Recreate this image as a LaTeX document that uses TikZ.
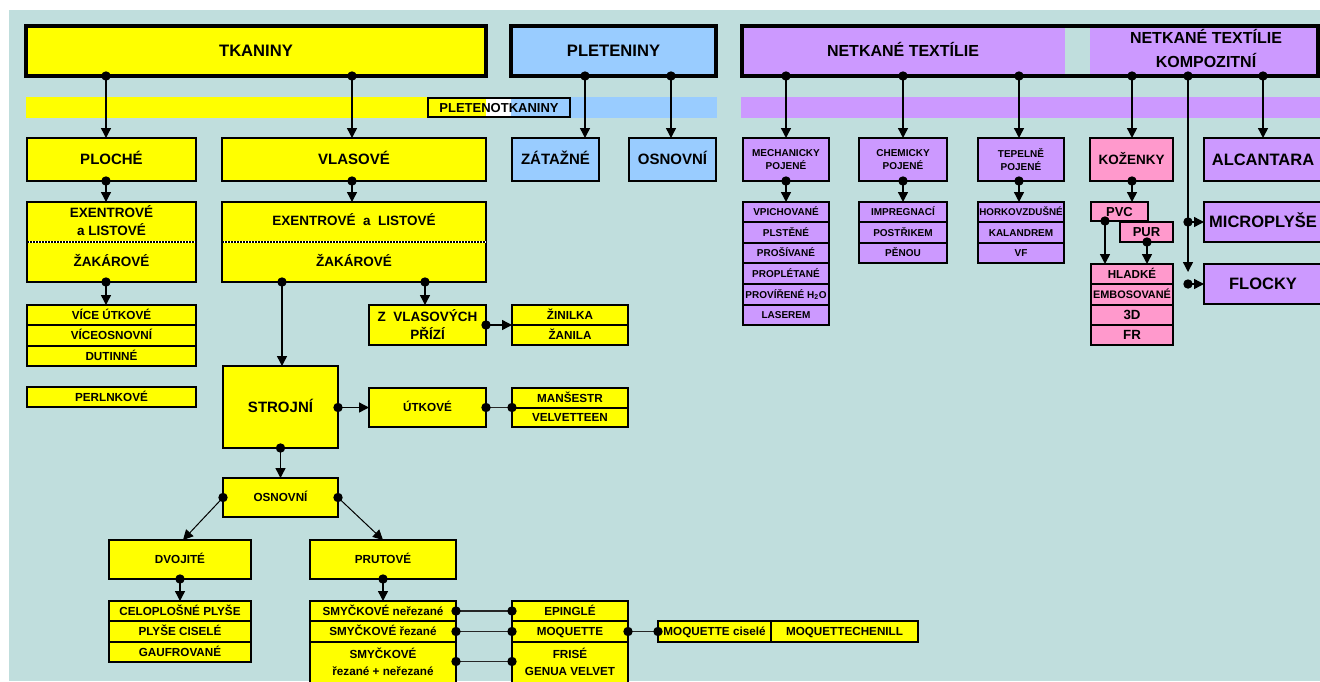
\documentclass[tikz,border=0pt]{standalone}
\usepackage{fontspec}
\setmainfont{Liberation Sans}
\usetikzlibrary{arrows.meta}
\definecolor{bg}{RGB}{192,222,221}
\definecolor{yel}{RGB}{255,255,0}
\definecolor{blu}{RGB}{153,204,255}
\definecolor{pur}{RGB}{204,153,255}
\definecolor{pnk}{RGB}{255,153,204}
\newcommand{\fs}[2]{\fontsize{#1}{#2}\selectfont\bfseries}
\newcommand{\dar}[3][ar]{\draw[#1] #2 -- #3; \fill #2 circle[radius=4.7];}
\newcommand{\dln}[2]{\draw[ln] #1 -- #2; \fill #1 circle[radius=4.7]; \fill #2 circle[radius=4.7];}
\newcommand{\bx}[7]{\node[#1, minimum width={(#5-#3)*1pt}, minimum height={(#6-#4)*1pt}] (#2) at ({(#3+#5)/2},{(#4+#6)/2}) {#7};}
\begin{document}
\begin{tikzpicture}[x=1pt,y=-1pt,
  fz/.style={font=\fs{#1}{#1}, text height=#1*0.72pt, text depth=0pt},
  ml/.style 2 args={font=\fs{#1}{#2}, text height={}, text depth={}},
  base/.style={draw, line width=2pt, inner sep=0pt, outer sep=0pt, align=center, text=black, fz=11.7},
  Y/.style={base, fill=yel},
  B/.style={base, fill=blu},
  P/.style={base, fill=pur},
  K/.style={base, fill=pnk},
  lbl/.style={inner sep=0pt, outer sep=0pt, align=center, text=black, fz=11.7},
  ar/.style={line width=1.4pt, -{Triangle[width=10pt,length=10pt]}},
  arthin/.style={line width=1pt, -{Triangle[width=10pt,length=10pt]}},
  ln/.style={line width=1.3pt, black!85},
]
\useasboundingbox (0,0) rectangle (1320,681);
\fill[bg] (9,10) rectangle (1320,681);

% bands
\fill[yel] (26,97) rectangle (428,118);
\fill[blu] (570,97) rectangle (717,118);
\fill[pur] (741,97) rectangle (1320,118);
\fill[yel] (428,98) rectangle (486,117);
\fill[white] (486,98) rectangle (511,117);
\fill[blu] (511,98) rectangle (570,117);
\bx{base, fz=13}{pk}{428}{98}{570}{117}{PLETENOTKANINY}

% top boxes
\bx{Y, line width=4pt, fz=16.6}{tk}{26}{26}{486}{76}{TKANINY}
\bx{B, line width=4pt, fz=16.6}{pt}{511}{26}{716}{76}{PLETENINY}
\bx{fill=pur, inner sep=0pt, outer sep=0pt}{nt}{742}{26}{1318}{76}{}
\fill[bg] (1065,28) rectangle (1090,74);
\draw[line width=4pt] (nt.north west) rectangle (nt.south east);
\node[lbl, fz=16] (ntA) at (903,51) {NETKANÉ TEXTÍLIE};
\node[lbl, ml={16}{24}] (ntB) at (1206,48) {NETKANÉ TEXTÍLIE\\KOMPOZITNÍ};

% row 2
\bx{Y, fz=15}{pl}{27}{138}{196}{181}{PLOCHÉ}
\bx{Y, fz=15}{vl}{222}{138}{486}{181}{VLASOVÉ}
\bx{B, fz=15}{za}{512}{138}{599}{181}{ZÁTAŽNÉ}
\bx{B, fz=15}{os}{629}{138}{716}{181}{OSNOVNÍ}
\bx{P, ml={10}{13.3}}{me}{743}{138}{829}{181}{MECHANICKY\\POJENÉ}
\bx{P, ml={10}{13.3}}{ch}{859}{138}{947}{181}{CHEMICKY\\POJENÉ}
\bx{P, ml={10}{13.3}}{te}{978}{138}{1064}{181}{TEPELNĚ\\POJENÉ}
\bx{K, fz=13.5}{ko}{1090}{138}{1173}{181}{KOŽENKY}
\bx{P, fz=16.5}{al}{1204}{138}{1322}{181}{ALCANTARA}

% row 3 yellow double boxes
\bx{Y}{exL}{27}{202}{196}{282}{}
\draw[white, line width=2pt] (exL.west) -- (exL.east);
\draw[line width=2pt, dash pattern=on 2pt off 1pt] (exL.west) -- (exL.east);
\node[lbl, ml={13.5}{18}] (exL1) at (111.5,221) {EXENTROVÉ\\a LISTOVÉ};
\node[lbl, fz=13.5] (exL2) at (111.5,262) {ŽAKÁROVÉ};
\bx{Y}{exR}{222}{202}{486}{282}{}
\draw[white, line width=2pt] (exR.west) -- (exR.east);
\draw[line width=2pt, dash pattern=on 2pt off 1pt] (exR.west) -- (exR.east);
\node[lbl, fz=13.5] (exR1) at (354,221) {EXENTROVÉ\ \ a\ \ LISTOVÉ};
\node[lbl, fz=13.5] (exR2) at (354,262) {ŽAKÁROVÉ};

% left lists
\bx{Y}{l1}{27}{305}{196}{325}{VÍCE ÚTKOVÉ}
\bx{Y}{l2}{27}{325}{196}{346}{VÍCEOSNOVNÍ}
\bx{Y}{l3}{27}{346}{196}{366}{DUTINNÉ}
\bx{Y}{perl}{27}{387}{196}{407}{PERLNKOVÉ}

% vlasove branch
\bx{Y, ml={13.5}{18}}{zv}{369}{305}{486}{345}{Z\ \ VLASOVÝCH\\PŘÍZÍ}
\bx{Y}{z1}{512}{305}{628}{325}{ŽINILKA}
\bx{Y}{z2}{512}{325}{628}{345}{ŽANILA}
\bx{Y, fz=15}{st}{223}{366}{338}{448}{STROJNÍ}
\bx{Y}{ut}{369}{388}{486}{427}{ÚTKOVÉ}
\bx{Y}{m1}{512}{388}{628}{408}{MANŠESTR}
\bx{Y}{m2}{512}{408}{628}{427}{VELVETTEEN}
\bx{Y}{os2}{223}{478}{338}{517}{OSNOVNÍ}
\bx{Y}{dv}{109}{540}{251}{579}{DVOJITÉ}
\bx{Y}{pr}{310}{540}{456}{579}{PRUTOVÉ}
\bx{Y}{c1}{109}{601}{251}{621}{CELOPLOŠNÉ PLYŠE}
\bx{Y}{c2}{109}{621}{251}{642}{PLYŠE CISELÉ}
\bx{Y}{c3}{109}{642}{251}{662}{GAUFROVANÉ}
\bx{Y}{s1}{310}{601}{456}{621}{SMYČKOVÉ neřezané}
\bx{Y}{s2}{310}{621}{456}{642}{SMYČKOVÉ řezané}
\bx{Y}{s3}{310}{642}{456}{700}{}
\node[lbl, ml={11.7}{17}] (s3t) at (383,661.5) {SMYČKOVÉ\\řezané + neřezané};
\bx{Y}{e1}{512}{601}{628}{621}{EPINGLÉ}
\bx{Y}{e2}{512}{621}{628}{642}{MOQUETTE}
\bx{Y}{e3}{512}{642}{628}{700}{}
\node[lbl, ml={11.7}{17}] (e3t) at (570,661.5) {FRISÉ\\GENUA VELVET};
\bx{Y}{mc}{658}{621}{771}{642}{MOQUETTE ciselé}
\bx{Y}{mch}{771}{621}{918}{642}{MOQUETTECHENILL}

% netkane lists
\bx{P, fz=10}{n1}{743}{202}{829}{222}{VPICHOVANÉ}
\bx{P, fz=10}{n2}{743}{222}{829}{243}{PLSTĚNÉ}
\bx{P, fz=10}{n3}{743}{243}{829}{263}{PROŠÍVANÉ}
\bx{P, fz=10}{n4}{743}{263}{829}{284}{PROPLÉTANÉ}
\bx{P, fz=10}{n5}{743}{284}{829}{305}{PROVÍŘENÉ H\textsubscript{2}O}
\bx{P, fz=10}{n6}{743}{305}{829}{325}{LASEREM}
\bx{P, fz=10}{h1}{859}{202}{947}{222}{IMPREGNACÍ}
\bx{P, fz=10}{h2}{859}{222}{947}{243}{POSTŘIKEM}
\bx{P, fz=10}{h3}{859}{243}{947}{263}{PĚNOU}
\bx{P, fz=9.8}{t1}{978}{202}{1064}{222}{HORKOVZDUŠNÉ}
\bx{P, fz=10}{t2}{978}{222}{1064}{243}{KALANDREM}
\bx{P, fz=10}{t3}{978}{243}{1064}{263}{VF}

% kozenky
\bx{K, fz=13}{pur}{1120}{222}{1173}{242}{PUR}
\bx{K, fz=13}{pvc}{1091}{202}{1148}{221}{PVC}
\bx{K, fz=11.6}{k1}{1091}{264}{1173}{284}{HLADKÉ}
\bx{K, fz=10.9}{k2}{1091}{284}{1173}{305}{EMBOSOVANÉ}
\bx{K, fz=13.3}{k3}{1091}{305}{1173}{325}{3D}
\bx{K, fz=13.3}{k4}{1091}{325}{1173}{345}{FR}
\bx{P, fz=16.5}{mp}{1204}{202}{1322}{242}{MICROPLYŠE}
\bx{P, fz=16.5}{fl}{1204}{264}{1322}{304}{FLOCKY}
\coordinate (fe) at (1188,272);

% connectors from top boxes
\dar{([xshift=80]tk.south west)}{([xshift=79]pl.north west)}
\dar{([xshift=326]tk.south west)}{([xshift=130]vl.north west)}
\dar{([xshift=74]pt.south west)}{([xshift=73]za.north west)}
\dar{([xshift=160]pt.south west)}{([xshift=42]os.north west)}
\dar{([xshift=44]nt.south west)}{([xshift=43]me.north west)}
\dar{([xshift=161]nt.south west)}{([xshift=44]ch.north west)}
\dar{([xshift=277]nt.south west)}{([xshift=41]te.north west)}
\dar{([xshift=390]nt.south west)}{([xshift=42]ko.north west)}
\dar{([xshift=446]nt.south west)}{(fe)}
\dar{([xshift=521]nt.south west)}{([xshift=59]al.north west)}

% row 2 to row 3
\dar{([xshift=79]pl.south west)}{([xshift=79]exL.north west)}
\dar{([xshift=130]vl.south west)}{([xshift=130]exR.north west)}
\dar{([xshift=43]me.south west)}{([xshift=43]n1.north west)}
\dar{([xshift=44]ch.south west)}{([xshift=44]h1.north west)}
\dar{([xshift=41]te.south west)}{([xshift=41]t1.north west)}
\dar{([xshift=42]ko.south west)}{([xshift=41]pvc.north west)}

% lower connectors
\dar{([xshift=79]exL.south west)}{([xshift=79]l1.north west)}
\dar{([xshift=60]exR.south west)}{([xshift=59]st.north west)}
\dar{([xshift=203]exR.south west)}{([xshift=56]zv.north west)}
\dar{(zv.east)}{(z1.south west)}
\dar{(st.east |- ut.west)}{(ut.west)}
\dln{(ut.east)}{(m1.west |- ut.east)}
\dar{(st.south)}{(os2.north)}
\dar[arthin]{(os2.west)}{([xshift=3]dv.north)}
\dar[arthin]{(os2.east)}{(pr.north)}
\dar{(dv.south)}{(c1.north)}
\dar{(pr.south)}{(s1.north)}
\dln{(s1.east)}{(e1.west)}
\dln{(s2.east)}{(e2.west)}
\dln{(s3.east |- s3t)}{(e3.west |- e3t)}
\dln{(e2.east)}{(mc.west)}

% kompozitni
\dar{([xshift=14]pvc.south west)}{([xshift=14]k1.north west)}
\dar{([xshift=27]pur.south west)}{([xshift=56]k1.north west)}
\dar{(fe |- mp.west)}{(mp.west)}
\dar{(fe |- fl.west)}{(fl.west)}
\end{tikzpicture}
\end{document}
